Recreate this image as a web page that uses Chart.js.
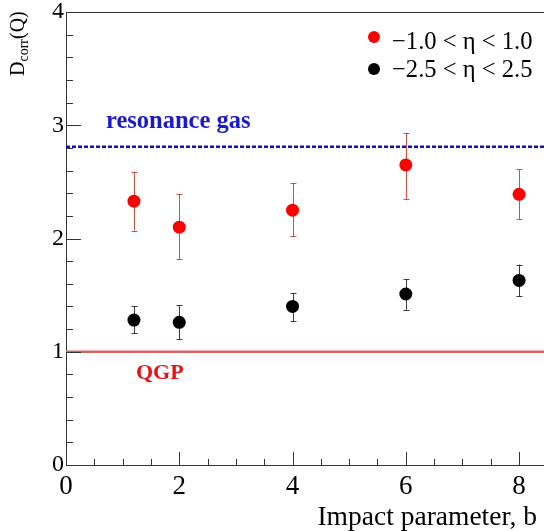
<!DOCTYPE html>
<html>
<head>
<meta charset="utf-8">
<script src="https://cdn.jsdelivr.net/npm/chart.js@4.4.1/dist/chart.umd.min.js"></script>
<style>
  html, body { margin: 0; padding: 0; background: #fff; }
  #wrap { width: 544px; height: 531px; }
</style>
</head>
<body>
<div id="wrap"><canvas id="chart" width="544" height="531"></canvas></div>
<script>
// ==== Data ====
const impactB = [1.2, 2, 4, 6, 8];

const narrowLabel = '\u22121.0 < \u03b7 < 1.0';
const narrowD   = [2.33, 2.10, 2.25, 2.65, 2.39];
const narrowLo  = [2.07, 1.82, 2.02, 2.35, 2.17];
const narrowHi  = [2.59, 2.39, 2.49, 2.93, 2.61];

const wideLabel = '\u22122.5 < \u03b7 < 2.5';
const wideD     = [1.28, 1.26, 1.40, 1.51, 1.63];
const wideLo    = [1.165, 1.11, 1.27, 1.37, 1.49];
const wideHi    = [1.40, 1.41, 1.52, 1.64, 1.77];

const resonanceGas = 2.81;
const qgpLevel = 1.0;

const xMin = 0, xMax = 8.44;
const yMin = 0, yMax = 4;
const xTickLabels = [0, 2, 4, 6, 8];
const yTickLabels = [0, 1, 2, 3, 4];

const SERIF = "'Liberation Serif', 'Times New Roman', serif";

// ==== Extra drawing: error bars, inward ticks, frame, texts ====
const rootStyle = {
    id: 'rootStyle',
    beforeDatasetsDraw(chart) {
        const ctx = chart.ctx;
        const xs = chart.scales.x, ys = chart.scales.y;
        const bars = [
            { lo: narrowLo, hi: narrowHi, color: '#c8504b' },
            { lo: wideLo, hi: wideHi, color: '#3a3a3a' }
        ];
        ctx.save();
        ctx.lineWidth = 1;
        bars.forEach(b => {
            ctx.strokeStyle = b.color;
            impactB.forEach((bv, i) => {
                const px = Math.round(xs.getPixelForValue(bv)) + 0.5;
                const y1 = ys.getPixelForValue(b.lo[i]);
                const y2 = ys.getPixelForValue(b.hi[i]);
                ctx.beginPath();
                ctx.moveTo(px, y1); ctx.lineTo(px, y2);
                ctx.moveTo(px - 3, Math.round(y1) + 0.5); ctx.lineTo(px + 3, Math.round(y1) + 0.5);
                ctx.moveTo(px - 3, Math.round(y2) + 0.5); ctx.lineTo(px + 3, Math.round(y2) + 0.5);
                ctx.stroke();
            });
        });
        ctx.restore();
    },
    afterDraw(chart) {
        const ctx = chart.ctx;
        const area = chart.chartArea;
        const xs = chart.scales.x, ys = chart.scales.y;
        ctx.save();

        // inward tick marks
        ctx.strokeStyle = '#333';
        ctx.lineWidth = 1;
        ctx.beginPath();
        for (let k = 1; k * 0.5 <= xMax; k++) {
            const px = Math.round(xs.getPixelForValue(k * 0.5)) + 0.5;
            const len = (k % 4 === 0) ? 13 : 6;
            ctx.moveTo(px, area.bottom); ctx.lineTo(px, area.bottom - len);
        }
        for (let k = 1; k <= 20; k++) {
            const py = Math.round(ys.getPixelForValue(k * 0.2)) + 0.5;
            const len = (k % 5 === 0) ? 15 : 7;
            ctx.moveTo(area.left, py); ctx.lineTo(area.left + len, py);
        }
        // top frame line
        ctx.moveTo(area.left, Math.round(area.top) + 0.5); ctx.lineTo(area.right, Math.round(area.top) + 0.5);
        ctx.stroke();

        // reference line labels
        ctx.textAlign = 'left';
        ctx.textBaseline = 'alphabetic';
        ctx.fillStyle = '#1a1acc';
        ctx.font = 'bold 24.5px ' + SERIF;
        ctx.fillText('resonance gas', area.left + 40, ys.getPixelForValue(resonanceGas) - 19);
        ctx.fillStyle = '#ee1111';
        ctx.font = 'bold 22px ' + SERIF;
        ctx.fillText('QGP', area.left + 70, ys.getPixelForValue(qgpLevel) + 27);

        // legend
        const entries = [
            { label: narrowLabel, color: '#ff0000', dotY: 37, textY: 49 },
            { label: wideLabel, color: '#000000', dotY: 69, textY: 77 }
        ];
        ctx.font = '24.6px ' + SERIF;
        entries.forEach(e => {
            ctx.fillStyle = e.color;
            ctx.beginPath();
            ctx.arc(374, e.dotY, 6, 0, Math.PI * 2);
            ctx.fill();
            ctx.fillStyle = '#000';
            ctx.fillText(e.label, 392, e.textY);
        });

        // x axis title
        ctx.textAlign = 'right';
        ctx.font = '27.5px ' + SERIF;
        ctx.fillText('Impact parameter, b', 537, 525);

        // y axis title with subscript
        ctx.translate(24, 76);
        ctx.rotate(-Math.PI / 2);
        ctx.textAlign = 'left';
        ctx.font = '20px ' + SERIF;
        ctx.fillText('D', 0, 0);
        let w = ctx.measureText('D').width;
        ctx.font = '14px ' + SERIF;
        ctx.fillText('corr', w, 3.5);
        w += ctx.measureText('corr').width;
        ctx.font = '20px ' + SERIF;
        ctx.fillText('(Q)', w, 0);

        ctx.restore();
    }
};

// ==== Chart ====
const ctx = document.getElementById('chart').getContext('2d');
const chart = new Chart(ctx, {
    type: 'scatter',
    data: {
        datasets: [
            {
                label: 'resonance gas',
                type: 'line',
                data: [{ x: xMin, y: resonanceGas }, { x: xMax, y: resonanceGas }],
                borderColor: '#1010c0',
                borderWidth: 2.5,
                borderDash: [4, 2],
                pointRadius: 0,
                order: 3
            },
            {
                label: 'QGP',
                type: 'line',
                data: [{ x: xMin, y: qgpLevel }, { x: xMax, y: qgpLevel }],
                borderColor: '#dd6262',
                borderWidth: 2.5,
                pointRadius: 0,
                order: 3
            },
            {
                label: narrowLabel,
                data: impactB.map((b, i) => ({ x: b, y: narrowD[i] })),
                backgroundColor: '#ff0000',
                borderColor: '#ff0000',
                borderWidth: 0,
                pointRadius: 6.5,
                order: 1
            },
            {
                label: wideLabel,
                data: impactB.map((b, i) => ({ x: b, y: wideD[i] })),
                backgroundColor: '#000000',
                borderColor: '#000000',
                borderWidth: 0,
                pointRadius: 6.5,
                order: 1
            }
        ]
    },
    options: {
        responsive: false,
        animation: false,
        layout: { autoPadding: false, padding: { top: 12, right: 0, left: 0, bottom: 0 } },
        plugins: {
            legend: { display: false },
            tooltip: { enabled: false }
        },
        scales: {
            x: {
                type: 'linear',
                min: xMin,
                max: xMax,
                afterFit: s => { s.height = 66; s.paddingLeft = 0; s.paddingRight = 0; },
                afterBuildTicks: s => { s.ticks = xTickLabels.map(v => ({ value: v })); },
                grid: { drawOnChartArea: false, drawTicks: false },
                border: { display: true, color: '#333', width: 1 },
                ticks: {
                    padding: 6,
                    color: '#000',
                    font: { family: SERIF, size: 27 }
                }
            },
            y: {
                type: 'linear',
                min: yMin,
                max: yMax,
                afterFit: s => { s.width = 66; s.paddingTop = 0; s.paddingBottom = 0; },
                afterBuildTicks: s => { s.ticks = yTickLabels.map(v => ({ value: v })); },
                grid: { drawOnChartArea: false, drawTicks: false },
                border: { display: true, color: '#333', width: 1 },
                ticks: {
                    padding: 2,
                    color: '#000',
                    font: { family: SERIF, size: 24 }
                }
            }
        }
    },
    plugins: [rootStyle]
});
</script>
</body>
</html>
